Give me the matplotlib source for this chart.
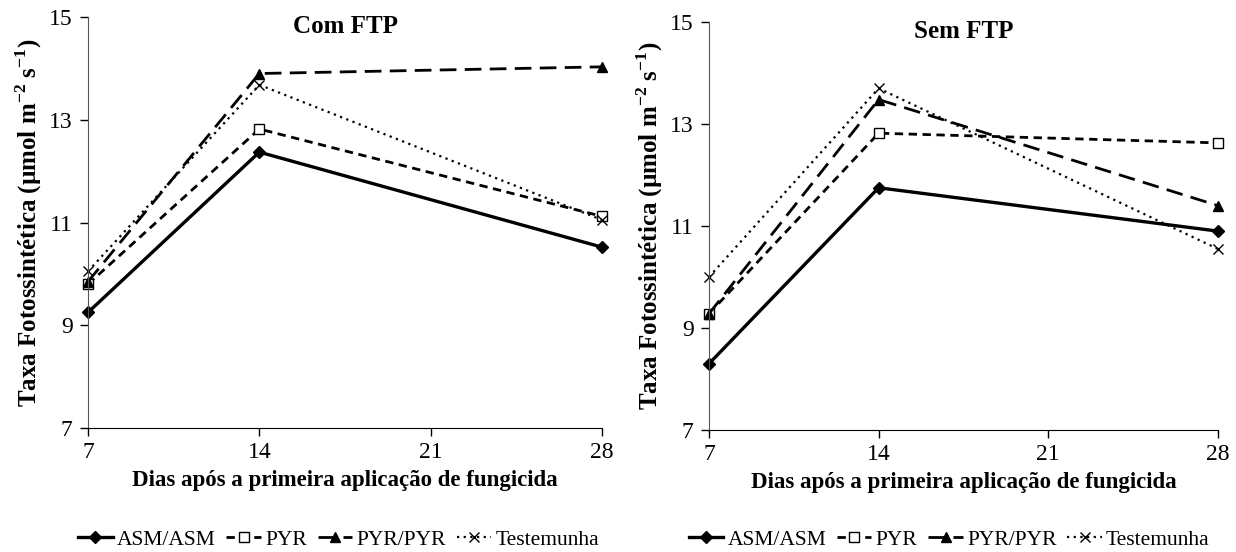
import matplotlib
matplotlib.use("Agg")
import matplotlib.pyplot as plt

plt.rcParams["font.family"] = ["Liberation Serif", "DejaVu Serif"]
plt.rcParams["mathtext.fontset"] = "custom"
plt.rcParams["mathtext.rm"] = "Liberation Serif"
plt.rcParams["mathtext.bf"] = "Liberation Serif:bold"

dias = [7, 14, 28]
series_names = ["ASM/ASM", "PYR", "PYR/PYR", "Testemunha"]

# Com FTP
com_asm = [9.25, 12.37, 10.52]
com_pyr = [9.80, 12.82, 11.12]
com_pyrpyr = [9.85, 13.90, 14.03]
com_test = [10.05, 13.68, 11.05]

# Sem FTP
sem_asm = [8.30, 11.75, 10.90]
sem_pyr = [9.28, 12.82, 12.63]
sem_pyrpyr = [9.28, 13.48, 11.40]
sem_test = [10.00, 13.70, 10.55]

styles = [
    dict(ls="-", lw=2.4, marker="D", ms=6, mfc="black", mec="black"),
    dict(ls=(0, (3, 2)), lw=2.0, marker="s", ms=7, mfc="white", mec="black"),
    dict(ls=(0, (6, 3)), lw=2.0, marker="^", ms=7, mfc="black", mec="black"),
    dict(ls=(0, (1, 2)), lw=1.6, marker="x", ms=7, mfc="black", mec="black"),
]

fig = plt.figure(figsize=(12.36, 5.52), dpi=100)
ax1 = fig.add_axes([0.0712, 0.2246, 0.4159, 0.7446])
ax2 = fig.add_axes([0.5736, 0.2210, 0.4118, 0.7391])

panels = [
    (ax1, "Com FTP", [com_asm, com_pyr, com_pyrpyr, com_test], 0.274),
    (ax2, "Sem FTP", [sem_asm, sem_pyr, sem_pyrpyr, sem_test], 0.768),
]

ylab = r"Taxa Fotossintética (µmol m$^{\mathbf{-2}}$ s$^{\mathbf{-1}}$)"

for ax, title, data, lx in panels:
    for name, vals, st in zip(series_names, data, styles):
        ax.plot(dias, vals, color="black", label=name, clip_on=False, **st)
    ax.set_xlim(7, 28)
    ax.set_ylim(7, 15)
    ax.set_xticks([7, 14, 21, 28])
    ax.set_yticks([7, 9, 11, 13, 15])
    ax.spines["top"].set_visible(False)
    ax.spines["right"].set_visible(False)
    ax.spines["left"].set_color("#555555")
    ax.tick_params(axis="both", direction="out", length=6, width=1, labelsize=17)
    ax.tick_params(axis="x", pad=4)
    ax.tick_params(axis="y", pad=5)
    ax.set_title(title, fontsize=18, fontweight="bold", y=0.94)
    ax.set_xlabel("Dias após a primeira aplicação de fungicida",
                  fontsize=16.5, fontweight="bold", labelpad=5)
    ax.set_ylabel(ylab, fontsize=18, fontweight="bold", labelpad=4)
    ax.legend(loc="center", bbox_to_anchor=(lx, 0.022),
              bbox_transform=fig.transFigure, ncol=4,
              frameon=False, fontsize=15.5, handlelength=1.6, handletextpad=0.2,
              columnspacing=0.5, borderaxespad=0, borderpad=0)

fig.savefig("out.png", dpi=100)
